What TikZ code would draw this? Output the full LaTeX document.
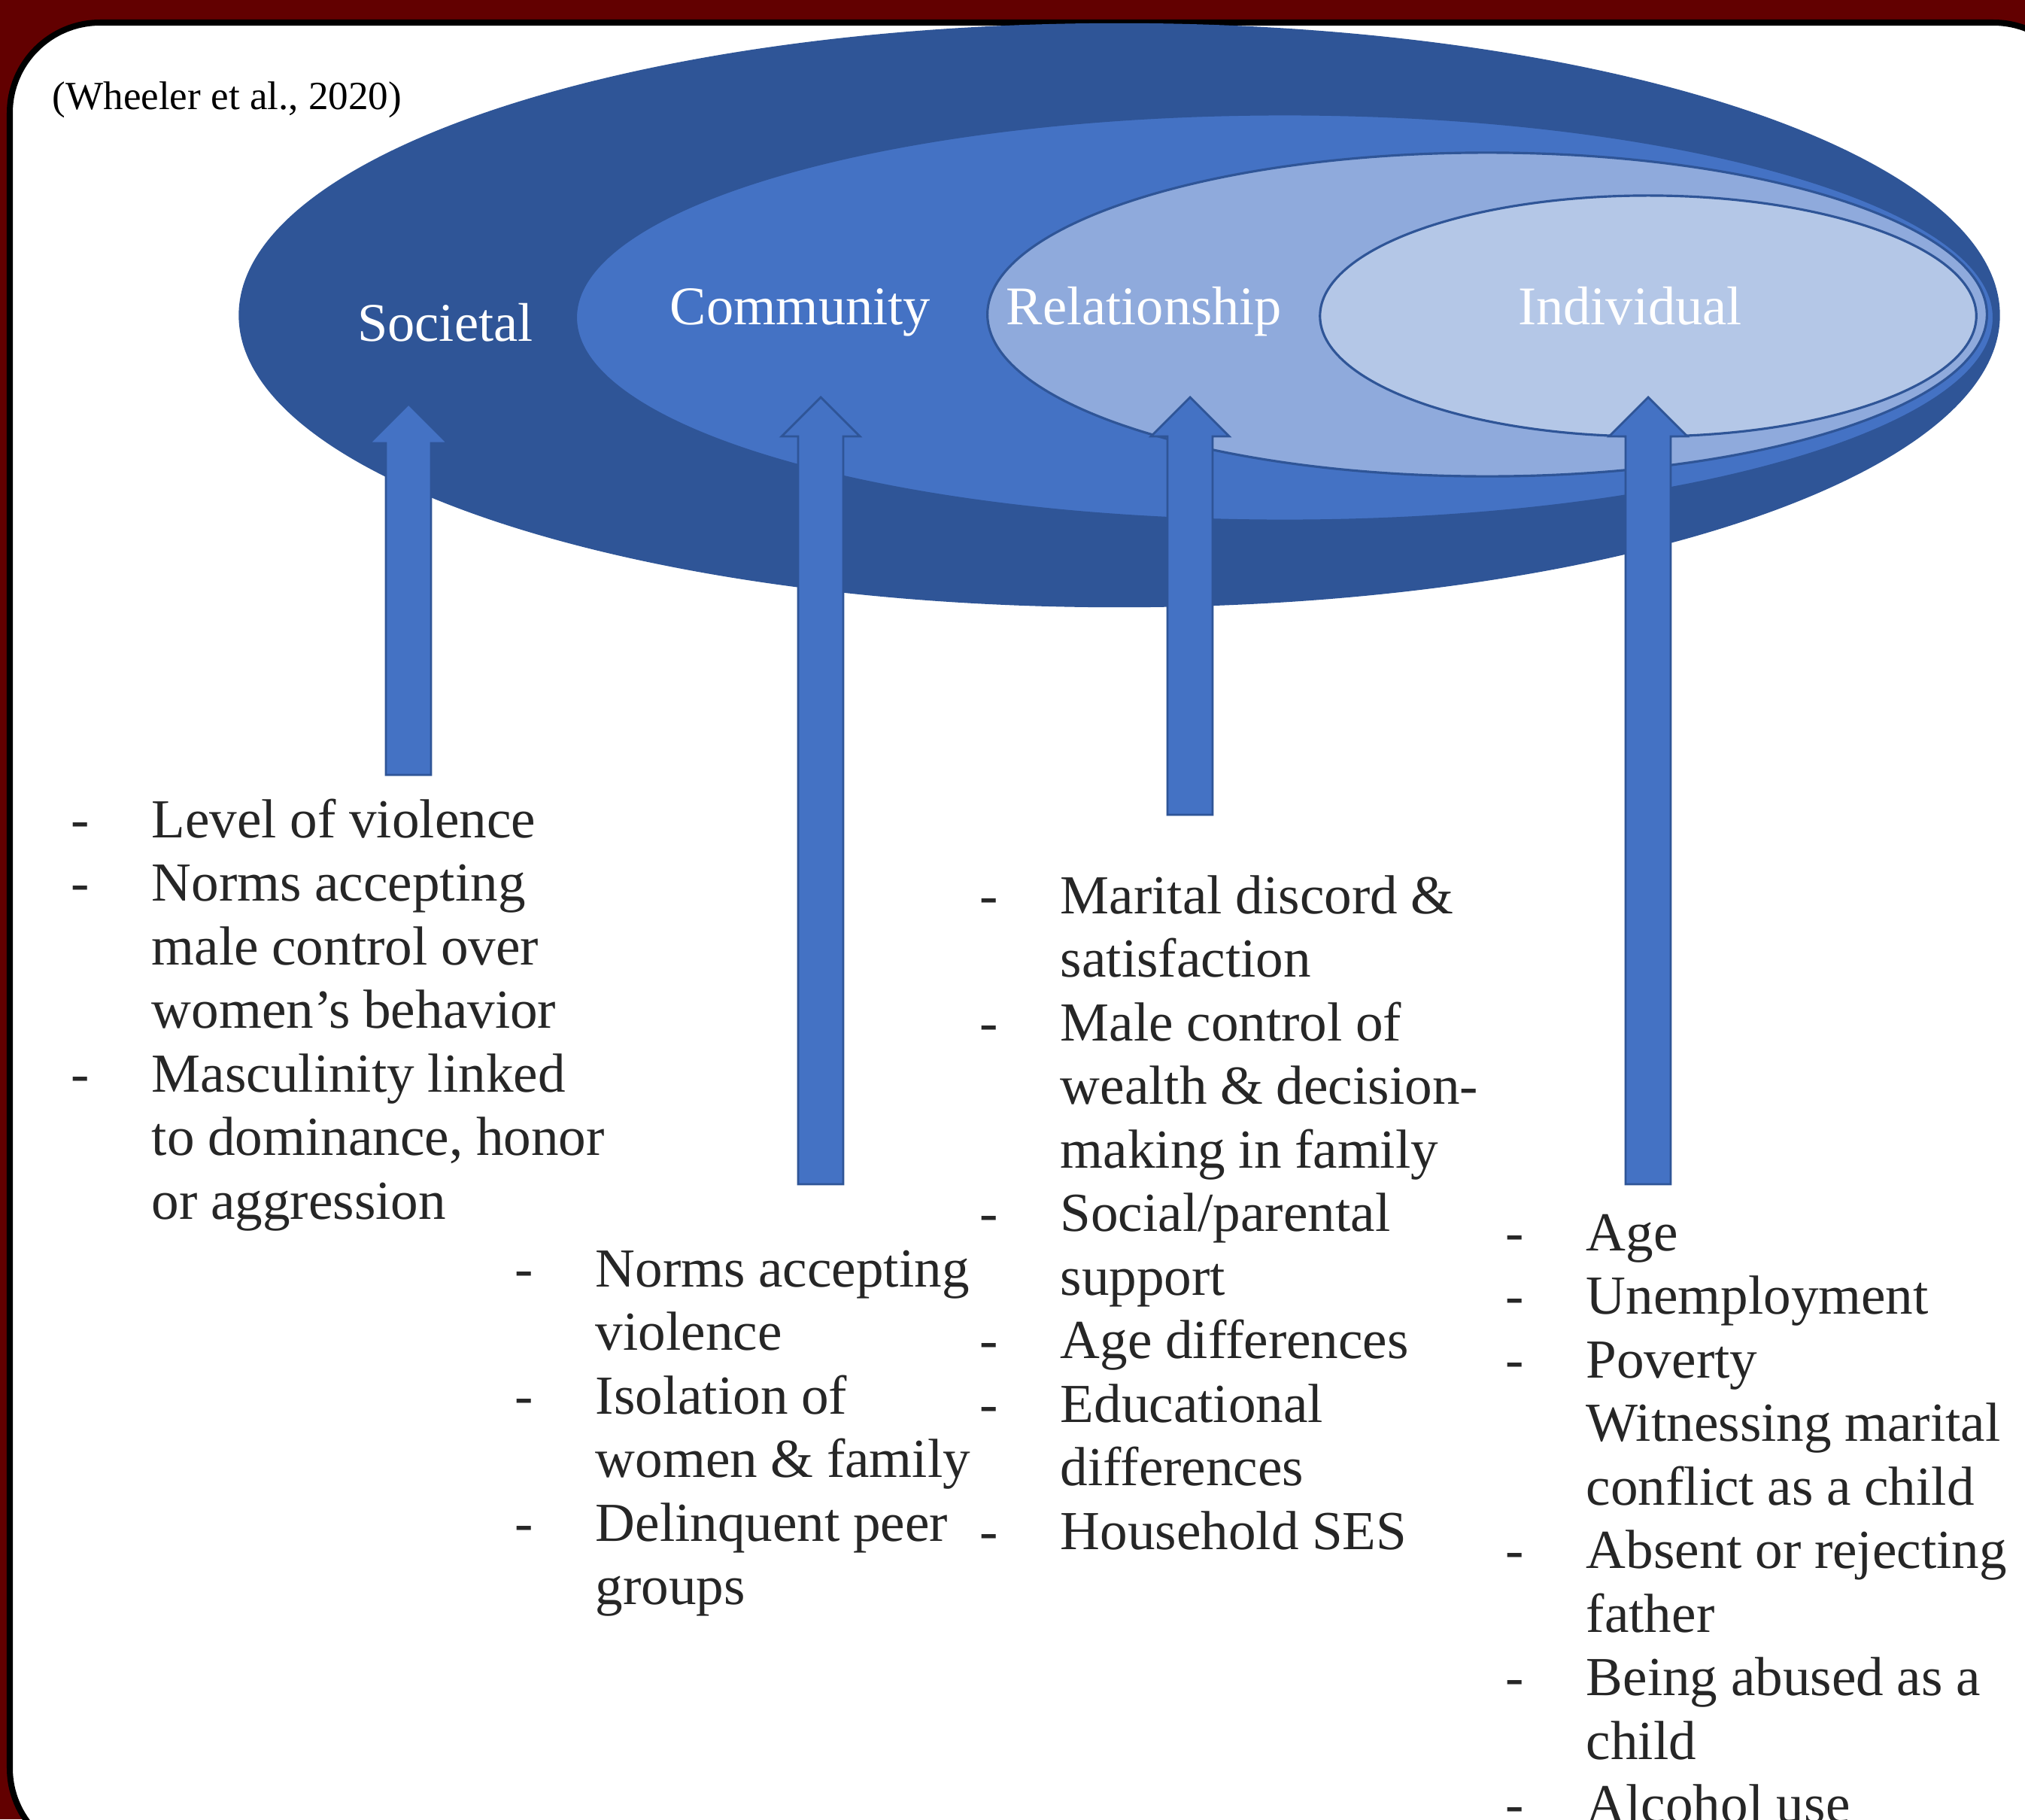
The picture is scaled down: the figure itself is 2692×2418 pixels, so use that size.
\documentclass[tikz,border=0pt]{standalone}
\usepackage{fontspec}
\setmainfont{Liberation Serif}
\usepackage{tikz}
\usetikzlibrary{calc}
\definecolor{framered}{HTML}{620000}
\definecolor{socblue}{HTML}{2F5597}
\definecolor{comblue}{HTML}{4472C4}
\definecolor{relblue}{HTML}{8FAADC}
\definecolor{indblue}{HTML}{B4C7E7}
\definecolor{txtgrey}{HTML}{262626}
\tikzstyle{ring} = [fill=comblue, draw=socblue, line width=0.9pt]
\tikzstyle{level} = [text=white, inner sep=0pt, anchor=base, font=\fontsize{20.6}{24}\selectfont]
\tikzstyle{risk} = [text=txtgrey, inner sep=0pt, anchor=base west, text width=9cm, align=left, font=\fontsize{20.8}{24.04}\selectfont, execute at begin node={\fontdimen2\font=0.24em\spaceskip=0.24em\relax}]
\tikzstyle{blockarrow} = [draw=socblue, fill=comblue, line width=0.8pt, line join=miter, to path={let \p1=(\tikztostart), \p2=(\tikztotarget) in (\x1-0.3cm,\y1) -- (\x1-0.3cm,\y2-0.52cm) -- (\x1-0.52cm,\y2-0.52cm) -- (\x2,\y2) -- (\x1+0.52cm,\y2-0.52cm) -- (\x1+0.3cm,\y2-0.52cm) -- (\x1+0.3cm,\y1) -- cycle}]
\newcommand{\riskitem}{\makebox[1.07cm][l]{-}}
\newcommand{\riskcont}{\hspace*{1.07cm}}
\begin{document}
\begin{tikzpicture}[x=0.01cm, y=-0.01cm]
	\useasboundingbox (0,0) rectangle (2692,2418);
	\fill [framered] (0,0) rectangle (2692,2418);
	\draw [fill=white, line width=0.08cm, rounded corners=1.2cm] (13,30) rectangle (2770,2470);

	\node [anchor=base west, inner sep=0pt, font=\fontsize{15.1}{18}\selectfont] (cite) at (69,145) {(Wheeler et al., 2020)};

	\fill [socblue] (1488,419) ellipse [x radius=11.7cm, y radius=3.88cm];
	\draw [ring] (1708,422) ellipse [x radius=9.42cm, y radius=2.7cm];
	\draw [ring, fill=relblue] (1977,418) ellipse [x radius=6.64cm, y radius=2.15cm];
	\draw [ring, fill=indblue] (2191,420) ellipse [x radius=4.36cm, y radius=1.6cm];

	\node [level] (soc) at (592,453) {Societal};
	\node [level] (com) at (1064,431) {Community};
	\node [level] (rel) at (1521,431) {Relationship};
	\node [level] (ind) at (2167,431) {Individual};

	\coordinate (soctail) at (543,1030);
	\coordinate (soctip) at (543,537);
	\coordinate (comtail) at (1091,1574);
	\coordinate (comtip) at (1091,528);
	\coordinate (reltail) at (1582,1083);
	\coordinate (reltip) at (1582,528);
	\coordinate (indtail) at (2191,1574);
	\coordinate (indtip) at (2191,528);

	\draw [blockarrow] (soctail) to (soctip);
	\draw [blockarrow] (comtail) to (comtip);
	\draw [blockarrow] (reltail) to (reltip);
	\draw [blockarrow] (indtail) to (indtip);

	\node [risk] (soclist) at (94,1113) {\riskitem Level of violence\\ \riskitem Norms accepting\\ \riskcont male control over\\ \riskcont women’s behavior\\ \riskitem Masculinity linked\\ \riskcont to dominance, honor\\ \riskcont or aggression};
	\node [risk] (comlist) at (684,1710) {\riskitem Norms accepting\\ \riskcont violence\\ \riskitem Isolation of\\ \riskcont women \& family\\ \riskitem Delinquent peer\\ \riskcont groups};
	\node [risk] (rellist) at (1302,1214) {\riskitem Marital discord \&\\ \riskcont satisfaction\\ \riskitem Male control of\\ \riskcont wealth \& decision-\\ \riskcont making in family\\ \riskitem Social/parental\\ \riskcont support\\ \riskitem Age differences\\ \riskitem Educational\\ \riskcont differences\\ \riskitem Household SES};
	\node [risk] (indlist) at (2001,1662) {\riskitem Age\\ \riskitem Unemployment\\ \riskitem Poverty\\ \riskcont Witnessing marital\\ \riskcont conflict as a child\\ \riskitem Absent or rejecting\\ \riskcont father\\ \riskitem Being abused as a\\ \riskcont child\\ \riskitem Alcohol use};
\end{tikzpicture}
\end{document}
